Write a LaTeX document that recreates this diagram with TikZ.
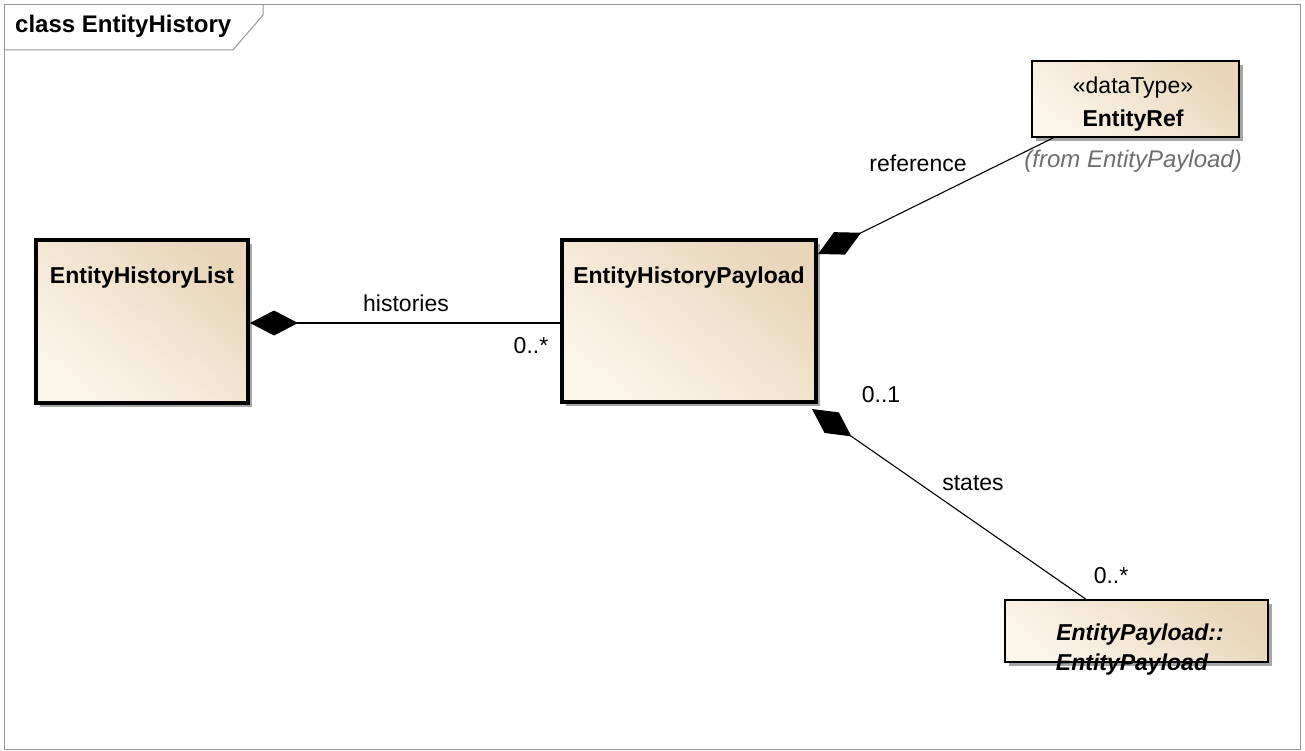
\documentclass[tikz,border=0pt]{standalone}
\usepackage{fontspec}
\setmainfont{Liberation Sans}
\usetikzlibrary{arrows.meta,shadows}
\definecolor{tanL}{RGB}{252,245,234}
\definecolor{tanM}{RGB}{247,236,220}
\definecolor{tanD}{RGB}{233,214,186}
\definecolor{frameGray}{RGB}{150,150,150}
\definecolor{noteGray}{RGB}{110,110,110}
\begin{document}
\begin{tikzpicture}[x=1pt,y=-1pt,
  frameline/.style={draw=frameGray, line width=1pt},
  boxbase/.style={draw=black, shade, top color=tanD, middle color=tanM, bottom color=tanL, shading angle=-40,
    drop shadow={shadow xshift=4pt, shadow yshift=-4pt, fill=black, opacity=0.35},
    inner sep=0pt, outer sep=0pt},
  bigbox/.style={boxbase, line width=4.5pt},
  smallbox/.style={boxbase, line width=1.5pt},
  txt/.style={inner sep=0pt, anchor=base, font=\fontsize{23}{27}\selectfont},
  btxt/.style={txt, font=\fontsize{23}{27}\selectfont\bfseries},
  comp/.style={draw=black, line width=1.1pt, {Diamond[length=48pt,width=25pt]}-},
]
\useasboundingbox (0,0) rectangle (1305,751);
% frame
\draw[frameline] (4.5,4.5) rectangle (1300.5,749.5);
\draw[frameline] (263,4.5) -- (263,15) -- (233,50) -- (4.5,50);
\node[btxt, anchor=base west, font=\fontsize{24}{28}\selectfont\bfseries] (title) at (15,33) {class EntityHistory};

% boxes
\node[bigbox, minimum width=212pt, minimum height=163pt] (hl) at (142,321.5) {};
\node[bigbox, minimum width=254pt, minimum height=162pt] (hp) at (689,321) {};
\node[smallbox, minimum width=207pt, minimum height=76pt] (er) at (1135.5,99) {};
\node[smallbox, minimum width=263pt, minimum height=62pt] (ep) at (1136.5,631) {};

% box texts
\node[btxt] (hlname) at (142,283) {EntityHistoryList};
\node[btxt] (hpname) at (689,283) {EntityHistoryPayload};
\node[txt] (erster) at (1133,94) {«dataType»};
\node[btxt] (ername) at (1133,127) {EntityRef};
\node[txt, anchor=base east, text=noteGray, font=\fontsize{24}{28}\selectfont\itshape] (erfrom) at (1242,168) {(from EntityPayload)};
\node[btxt, font=\fontsize{23}{27}\selectfont\bfseries\itshape] (epname1) at (1140,640) {EntityPayload::};
\node[btxt, font=\fontsize{23}{27}\selectfont\bfseries\itshape] (epname2) at (1132,670) {EntityPayload};

% connector end points
\coordinate (hs) at ([xshift=2pt, yshift=-1.5pt]hl.east);
\coordinate (rs) at ([shift={(2,14)}]hp.north east);
\coordinate (re) at ([xshift=23pt]er.south west);
\coordinate (ss) at ([shift={(-4,7)}]hp.south east);
\coordinate (se) at ([xshift=82pt]ep.north west);

% connectors
\draw[comp] (hs) -- (hs -| hp.west);
\draw[comp] (rs) -- (re);
\draw[comp] (ss) -- (se);

% labels
\node[txt] (lhist) at (406,311) {histories};
\node[txt] (lhm) at (531,353) {0..*};
\node[txt] (lref) at (918,172) {reference};
\node[txt] (lsm1) at (881,402) {0..1};
\node[txt] (lst) at (973,490) {states};
\node[txt] (lsm2) at (1111,583) {0..*};
\end{tikzpicture}
\end{document}
